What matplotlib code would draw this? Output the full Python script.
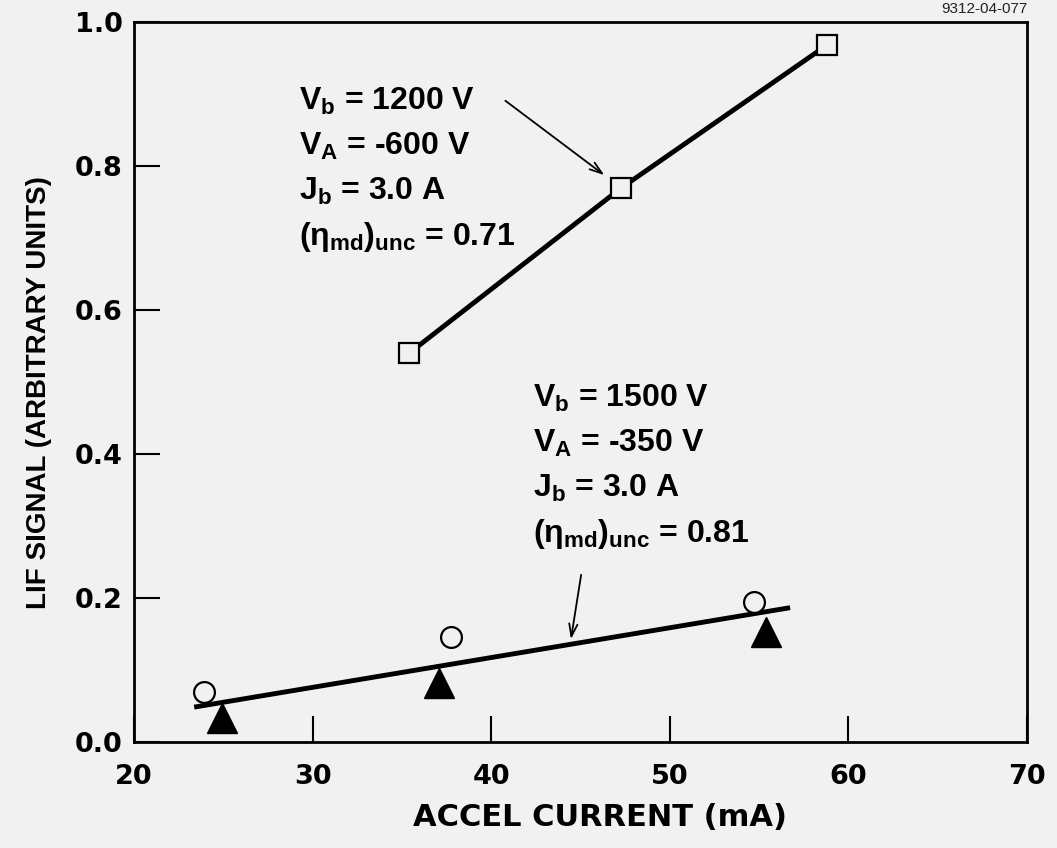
import matplotlib
matplotlib.use("Agg")
import matplotlib.pyplot as plt

# data
accel_sq = [35.4, 47.25, 58.8]          # Vb = 1200 V series (squares)
lif_sq = [0.540, 0.769, 0.968]
accel_circ = [23.9, 37.75, 54.7]        # Vb = 1500 V, open circles
lif_circ = [0.070, 0.146, 0.194]
accel_tri = [24.9, 37.1, 55.4]          # Vb = 1500 V, filled triangles
lif_tri = [0.034, 0.082, 0.153]
fit_x = [23.5, 56.6]                    # straight line through the 1500 V data
fit_y = [0.049, 0.186]

xticks = [20, 30, 40, 50, 60, 70]
yticks = [0.0, 0.2, 0.4, 0.6, 0.8, 1.0]

plt.rcParams['mathtext.fontset'] = 'custom'
plt.rcParams['mathtext.rm'] = 'Liberation Sans:bold'
plt.rcParams['mathtext.it'] = 'Liberation Sans:bold'
plt.rcParams['mathtext.bf'] = 'Liberation Sans:bold'

bg = '#f1f1f1'
fig = plt.figure(figsize=(10.57, 8.48), dpi=100, facecolor=bg)
ax = fig.add_axes([0.1268, 0.125, 0.8448, 0.849], facecolor=bg)

# series
ax.plot(accel_sq, lif_sq, color='black', lw=3.5, zorder=2)
ax.plot(accel_sq, lif_sq, ls='none', marker='s', ms=14, mfc=bg, mec='black',
        mew=1.6, zorder=3)
ax.plot(fit_x, fit_y, color='black', lw=3.5, zorder=2)
ax.plot(accel_circ, lif_circ, ls='none', marker='o', ms=15, mfc=bg, mec='black',
        mew=1.6, zorder=3)
ax.plot(accel_tri, lif_tri, ls='none', marker='^', ms=21, mfc='black', mec='black',
        zorder=4)

ax.set_xlim(20, 70)
ax.set_ylim(0, 1.0)
ax.set_xticks(xticks)
ax.set_yticks(yticks)
ax.set_xticklabels([str(v) for v in xticks])
ax.set_yticklabels([f"{v:.1f}" for v in yticks])
ax.tick_params(direction='in', length=19, width=1.5, top=False, right=False)
ax.tick_params(axis='x', pad=16)
ax.tick_params(axis='y', pad=8)
for lab in ax.get_xticklabels() + ax.get_yticklabels():
    lab.set_fontfamily('DejaVu Sans')
    lab.set_fontweight('bold')
    lab.set_fontsize(19.5)
for s in ax.spines.values():
    s.set_linewidth(2)

ax.set_xlabel("ACCEL CURRENT (mA)", fontsize=22, fontweight='bold',
              family='DejaVu Sans')
ax.xaxis.set_label_coords(0.522, -0.085)
ax.set_ylabel("LIF SIGNAL (ARBITRARY UNITS)", fontsize=20, fontweight='bold',
              family='Liberation Sans')
ax.yaxis.set_label_coords(-0.092, 0.485)

# annotation blocks
txt = dict(fontsize=23, fontweight='bold', family='Liberation Sans',
           va='baseline', ha='left')
upper = ["V$_b$ = 1200 V", "V$_A$ = -600 V", "J$_b$ = 3.0 A",
         "(η$_{md}$)$_{unc}$ = 0.71"]
for s, y in zip(upper, [0.878, 0.815, 0.753, 0.690]):
    ax.text(29.21, y, s, **txt)
lower = ["V$_b$ = 1500 V", "V$_A$ = -350 V", "J$_b$ = 3.0 A",
         "(η$_{md}$)$_{unc}$ = 0.81"]
for s, y in zip(lower, [0.465, 0.403, 0.340, 0.278]):
    ax.text(42.36, y, s, **txt)

arrow = dict(arrowstyle='->,head_length=0.9,head_width=0.3', color='black', lw=1.3)
ax.annotate("", xy=(46.46, 0.785), xytext=(40.67, 0.893), arrowprops=arrow)
ax.annotate("", xy=(44.44, 0.139), xytext=(45.06, 0.236), arrowprops=arrow)

# scan id in the top right corner
fig.text(0.972, 0.998, "9312-04-077", ha='right', va='top', fontsize=11,
         family='Liberation Sans', color='#222222')

fig.savefig("out.png", dpi=100, facecolor=bg)
